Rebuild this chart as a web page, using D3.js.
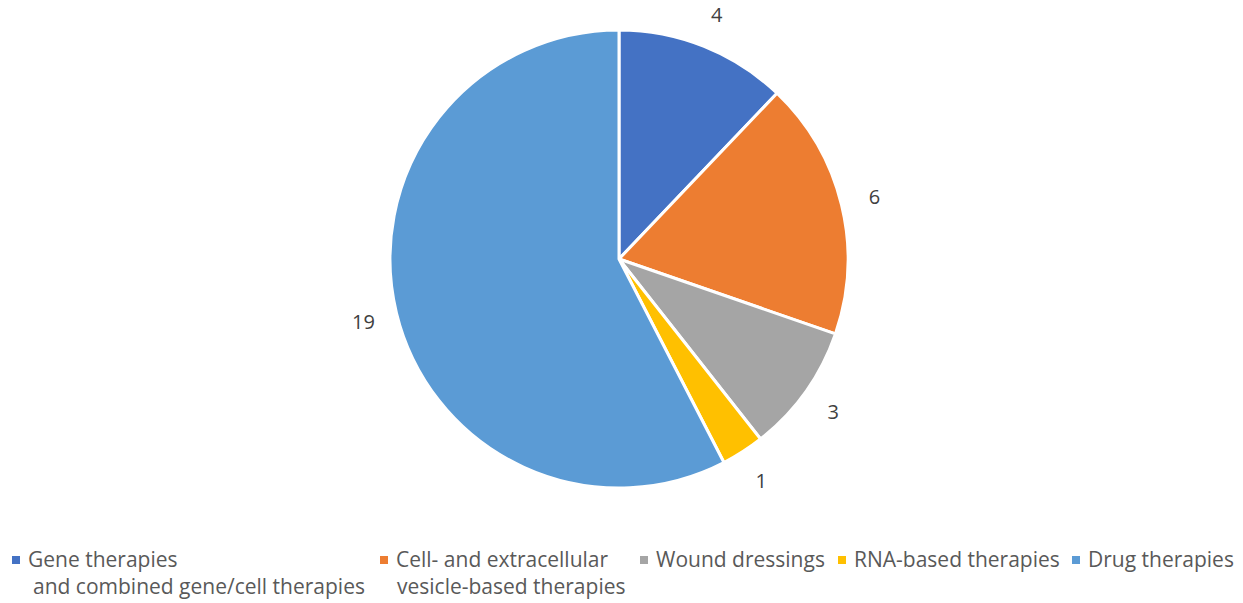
<!DOCTYPE html>
<html><head><meta charset="utf-8">
<script src="https://cdn.jsdelivr.net/npm/d3@7"></script>
<style>body{margin:0;background:#fff}svg{display:block}</style>
</head><body>
<svg id="c" width="1243" height="603"></svg>
<script>
const categories = ["Gene therapies|and combined gene/cell therapies", "Cell- and extracellular|vesicle-based therapies", "Wound dressings", "RNA-based therapies", "Drug therapies"];
const values = [4, 6, 3, 1, 19];
const colors = ["#4472C4", "#ED7D31", "#A5A5A5", "#FFC000", "#5B9BD5"];

const svg = d3.select("#c");
const font = "'Open Sans', sans-serif";
const cx = 619, cy = 259, r = 229;
const pie = d3.pie().sort(null).value(d => d);
const arcs = pie(values);
const arc = d3.arc().innerRadius(0).outerRadius(r);
const labelArc = d3.arc().innerRadius(263).outerRadius(263);
const g = svg.append("g").attr("transform", `translate(${cx},${cy})`);
g.selectAll("path").data(arcs).join("path")
  .attr("d", arc).attr("fill", (d, i) => colors[i])
  .attr("stroke", "#fff").attr("stroke-width", 3).attr("stroke-linejoin", "round");
g.selectAll("text").data(arcs).join("text")
  .attr("transform", d => `translate(${labelArc.centroid(d)})`)
  .attr("text-anchor", "middle").attr("dominant-baseline", "central")
  .attr("font-family", font).attr("font-size", 20).attr("fill", "#404040")
  .text(d => d.data);

const legX = [12, 380, 640, 838, 1072];
const lg = svg.append("g");
categories.forEach((c, i) => {
  const lines = c.split("|");
  lg.append("rect").attr("x", legX[i]).attr("y", 556).attr("width", 8).attr("height", 8).attr("fill", colors[i]);
  lines.forEach((t, j) => {
    lg.append("text").attr("x", legX[i] + (j === 0 ? 16 : (i === 0 ? 21 : 17)))
      .attr("y", 567 + j * 27)
      .attr("font-family", font).attr("font-size", 21).attr("fill", "#595959")
      .text(t);
  });
});
</script>
</body></html>
